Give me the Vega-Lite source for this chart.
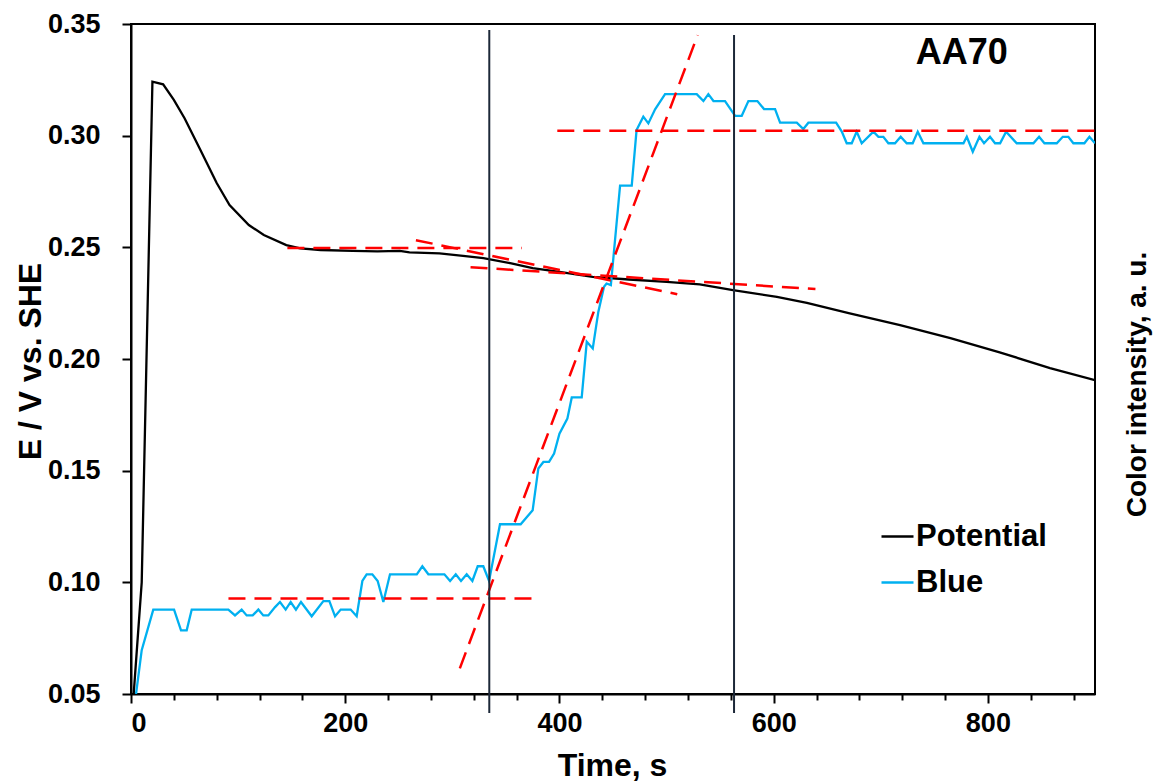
{
  "$schema": "https://vega.github.io/schema/vega-lite/v6.json",
  "width": 964,
  "height": 670,
  "autosize": {"type": "none"},
  "padding": {"left": 131, "top": 24, "right": 59, "bottom": 88},
  "background": "white",
  "config": {
    "view": {"stroke": "black", "strokeWidth": 2},
    "font": "Liberation Sans",
    "axis": {"grid": false, "ticks": true, "domainColor": "black", "domainWidth": 2, "tickColor": "black", "tickWidth": 2, "labelColor": "black", "titleColor": "black", "labelFont": "Liberation Sans", "titleFont": "Liberation Sans", "labelFontWeight": "bold", "titleFontWeight": "bold"}
  },
  "datasets": {
    "series": [
      {"series": "Potential", "t": 2.5, "v": 0.05},
      {"series": "Potential", "t": 10, "v": 0.10},
      {"series": "Potential", "t": 20, "v": 0.3242},
      {"series": "Potential", "t": 30, "v": 0.3230},
      {"series": "Potential", "t": 40, "v": 0.3160},
      {"series": "Potential", "t": 50, "v": 0.3078},
      {"series": "Potential", "t": 64, "v": 0.2944},
      {"series": "Potential", "t": 80, "v": 0.2788},
      {"series": "Potential", "t": 92, "v": 0.2689},
      {"series": "Potential", "t": 110, "v": 0.2600},
      {"series": "Potential", "t": 124, "v": 0.2555},
      {"series": "Potential", "t": 145, "v": 0.2510},
      {"series": "Potential", "t": 158, "v": 0.2495},
      {"series": "Potential", "t": 177, "v": 0.2488},
      {"series": "Potential", "t": 207, "v": 0.2484},
      {"series": "Potential", "t": 230, "v": 0.2482},
      {"series": "Potential", "t": 251, "v": 0.2484},
      {"series": "Potential", "t": 260, "v": 0.2477},
      {"series": "Potential", "t": 288, "v": 0.2473},
      {"series": "Potential", "t": 310, "v": 0.2462},
      {"series": "Potential", "t": 329, "v": 0.2452},
      {"series": "Potential", "t": 354, "v": 0.2429},
      {"series": "Potential", "t": 375, "v": 0.2407},
      {"series": "Potential", "t": 400, "v": 0.2390},
      {"series": "Potential", "t": 431, "v": 0.2368},
      {"series": "Potential", "t": 465, "v": 0.2356},
      {"series": "Potential", "t": 500, "v": 0.2345},
      {"series": "Potential", "t": 531, "v": 0.2334},
      {"series": "Potential", "t": 562, "v": 0.2308},
      {"series": "Potential", "t": 603, "v": 0.2278},
      {"series": "Potential", "t": 631, "v": 0.2251},
      {"series": "Potential", "t": 671, "v": 0.2204},
      {"series": "Potential", "t": 718, "v": 0.2152},
      {"series": "Potential", "t": 765, "v": 0.2093},
      {"series": "Potential", "t": 811, "v": 0.2030},
      {"series": "Potential", "t": 858, "v": 0.1959},
      {"series": "Potential", "t": 900, "v": 0.1905},
      {"series": "Blue", "t": 4.7, "v": 0.05},
      {"series": "Blue", "t": 10, "v": 0.0696},
      {"series": "Blue", "t": 20.8, "v": 0.0878},
      {"series": "Blue", "t": 40.2, "v": 0.0878},
      {"series": "Blue", "t": 46.7, "v": 0.0785},
      {"series": "Blue", "t": 52, "v": 0.0785},
      {"series": "Blue", "t": 56.7, "v": 0.0878},
      {"series": "Blue", "t": 90.9, "v": 0.0878},
      {"series": "Blue", "t": 97.1, "v": 0.0852},
      {"series": "Blue", "t": 103.3, "v": 0.0878},
      {"series": "Blue", "t": 108, "v": 0.0852},
      {"series": "Blue", "t": 113.6, "v": 0.0852},
      {"series": "Blue", "t": 118.9, "v": 0.0878},
      {"series": "Blue", "t": 123.5, "v": 0.0852},
      {"series": "Blue", "t": 128.2, "v": 0.0852},
      {"series": "Blue", "t": 134.5, "v": 0.0889},
      {"series": "Blue", "t": 139.1, "v": 0.0912},
      {"series": "Blue", "t": 144.4, "v": 0.0878},
      {"series": "Blue", "t": 149.1, "v": 0.0912},
      {"series": "Blue", "t": 154, "v": 0.0878},
      {"series": "Blue", "t": 158.7, "v": 0.0912},
      {"series": "Blue", "t": 168.7, "v": 0.0848},
      {"series": "Blue", "t": 179.6, "v": 0.0916},
      {"series": "Blue", "t": 185.2, "v": 0.0916},
      {"series": "Blue", "t": 190.5, "v": 0.0848},
      {"series": "Blue", "t": 195.8, "v": 0.0878},
      {"series": "Blue", "t": 205.1, "v": 0.0878},
      {"series": "Blue", "t": 210.7, "v": 0.0848},
      {"series": "Blue", "t": 216, "v": 0.1006},
      {"series": "Blue", "t": 220, "v": 0.1036},
      {"series": "Blue", "t": 225.3, "v": 0.1036},
      {"series": "Blue", "t": 230.3, "v": 0.1006},
      {"series": "Blue", "t": 235.6, "v": 0.0912},
      {"series": "Blue", "t": 241.8, "v": 0.1036},
      {"series": "Blue", "t": 266.8, "v": 0.1036},
      {"series": "Blue", "t": 272, "v": 0.1072},
      {"series": "Blue", "t": 277.6, "v": 0.1036},
      {"series": "Blue", "t": 292.6, "v": 0.1036},
      {"series": "Blue", "t": 297.9, "v": 0.1006},
      {"series": "Blue", "t": 303.2, "v": 0.1036},
      {"series": "Blue", "t": 308.1, "v": 0.1006},
      {"series": "Blue", "t": 313.4, "v": 0.1036},
      {"series": "Blue", "t": 318.7, "v": 0.1006},
      {"series": "Blue", "t": 323.7, "v": 0.1072},
      {"series": "Blue", "t": 328.9, "v": 0.1072},
      {"series": "Blue", "t": 334.3, "v": 0.1006},
      {"series": "Blue", "t": 344.5, "v": 0.126},
      {"series": "Blue", "t": 363.8, "v": 0.126},
      {"series": "Blue", "t": 375, "v": 0.1323},
      {"series": "Blue", "t": 380.3, "v": 0.1510},
      {"series": "Blue", "t": 385, "v": 0.1539},
      {"series": "Blue", "t": 390.3, "v": 0.1539},
      {"series": "Blue", "t": 395, "v": 0.1577},
      {"series": "Blue", "t": 400, "v": 0.1666},
      {"series": "Blue", "t": 407.4, "v": 0.1733},
      {"series": "Blue", "t": 411.5, "v": 0.1828},
      {"series": "Blue", "t": 420.8, "v": 0.1828},
      {"series": "Blue", "t": 425.5, "v": 0.2077},
      {"series": "Blue", "t": 431.1, "v": 0.2047},
      {"series": "Blue", "t": 436.3, "v": 0.2211},
      {"series": "Blue", "t": 441.6, "v": 0.2323},
      {"series": "Blue", "t": 444, "v": 0.2338},
      {"series": "Blue", "t": 448, "v": 0.2331},
      {"series": "Blue", "t": 456.6, "v": 0.2776},
      {"series": "Blue", "t": 467.5, "v": 0.2776},
      {"series": "Blue", "t": 472, "v": 0.3025},
      {"series": "Blue", "t": 478.3, "v": 0.3085},
      {"series": "Blue", "t": 483, "v": 0.3055},
      {"series": "Blue", "t": 489.3, "v": 0.3118},
      {"series": "Blue", "t": 498.6, "v": 0.3186},
      {"series": "Blue", "t": 528.2, "v": 0.3186},
      {"series": "Blue", "t": 534.4, "v": 0.3155},
      {"series": "Blue", "t": 539, "v": 0.3186},
      {"series": "Blue", "t": 543.8, "v": 0.3155},
      {"series": "Blue", "t": 554.6, "v": 0.3155},
      {"series": "Blue", "t": 564, "v": 0.3089},
      {"series": "Blue", "t": 570.2, "v": 0.3089},
      {"series": "Blue", "t": 576.4, "v": 0.3155},
      {"series": "Blue", "t": 584.8, "v": 0.3155},
      {"series": "Blue", "t": 591, "v": 0.3119},
      {"series": "Blue", "t": 601.3, "v": 0.3119},
      {"series": "Blue", "t": 606, "v": 0.3058},
      {"series": "Blue", "t": 621.6, "v": 0.3058},
      {"series": "Blue", "t": 627.7, "v": 0.3030},
      {"series": "Blue", "t": 632.4, "v": 0.3058},
      {"series": "Blue", "t": 658.3, "v": 0.3058},
      {"series": "Blue", "t": 663.6, "v": 0.3018},
      {"series": "Blue", "t": 668.2, "v": 0.2966},
      {"series": "Blue", "t": 672.9, "v": 0.2966},
      {"series": "Blue", "t": 677.5, "v": 0.3018},
      {"series": "Blue", "t": 682.2, "v": 0.2966},
      {"series": "Blue", "t": 693.1, "v": 0.3018},
      {"series": "Blue", "t": 697.8, "v": 0.2995},
      {"series": "Blue", "t": 702.4, "v": 0.2995},
      {"series": "Blue", "t": 707.1, "v": 0.2966},
      {"series": "Blue", "t": 713.3, "v": 0.2966},
      {"series": "Blue", "t": 718.6, "v": 0.2995},
      {"series": "Blue", "t": 724.2, "v": 0.2966},
      {"series": "Blue", "t": 729.8, "v": 0.2966},
      {"series": "Blue", "t": 734.5, "v": 0.3018},
      {"series": "Blue", "t": 739.8, "v": 0.2966},
      {"series": "Blue", "t": 777.2, "v": 0.2966},
      {"series": "Blue", "t": 780.3, "v": 0.2995},
      {"series": "Blue", "t": 785.9, "v": 0.2928},
      {"series": "Blue", "t": 792.1, "v": 0.2995},
      {"series": "Blue", "t": 796.4, "v": 0.2966},
      {"series": "Blue", "t": 802, "v": 0.2995},
      {"series": "Blue", "t": 806.7, "v": 0.2966},
      {"series": "Blue", "t": 811.4, "v": 0.2966},
      {"series": "Blue", "t": 817, "v": 0.3018},
      {"series": "Blue", "t": 826.9, "v": 0.2966},
      {"series": "Blue", "t": 842.5, "v": 0.2966},
      {"series": "Blue", "t": 847.8, "v": 0.2995},
      {"series": "Blue", "t": 852.8, "v": 0.2966},
      {"series": "Blue", "t": 864.3, "v": 0.2966},
      {"series": "Blue", "t": 869.9, "v": 0.2995},
      {"series": "Blue", "t": 875.1, "v": 0.2995},
      {"series": "Blue", "t": 879.8, "v": 0.2966},
      {"series": "Blue", "t": 890.1, "v": 0.2966},
      {"series": "Blue", "t": 894.8, "v": 0.2995},
      {"series": "Blue", "t": 900, "v": 0.2966}
    ],
    "fits": [
      {"id": "a", "t": 146, "v": 0.2497},
      {"id": "a", "t": 365, "v": 0.2497},
      {"id": "b", "t": 266, "v": 0.2532},
      {"id": "b", "t": 510, "v": 0.2290},
      {"id": "c", "t": 317, "v": 0.2411},
      {"id": "c", "t": 639, "v": 0.2313},
      {"id": "d", "t": 307, "v": 0.0615},
      {"id": "d", "t": 529, "v": 0.3450},
      {"id": "e", "t": 91, "v": 0.0928},
      {"id": "e", "t": 379, "v": 0.0928},
      {"id": "f", "t": 398, "v": 0.3022},
      {"id": "f", "t": 900, "v": 0.3022}
    ],
    "marks": [
      {"t": 334.5, "top": 0.3473, "bottom": 0.0415},
      {"t": 563, "top": 0.3451, "bottom": 0.0415}
    ],
    "label": [
      {"t": 775.6, "v": 0.3368, "text": "AA70"}
    ]
  },
  "layer": [
    {
      "data": {"name": "series"},
      "mark": {"type": "line", "strokeWidth": 2.3, "clip": true},
      "encoding": {
        "x": {"field": "t", "type": "quantitative", "scale": {"domain": [0, 900], "nice": false, "zero": false},
          "axis": {"orient": "bottom", "values": [0, 200, 400, 600, 800], "tickSize": 9, "labelFontSize": 27, "labelPadding": 7, "title": "Time, s", "titleFontSize": 32, "titleX": 481, "titleY": 81, "titleBaseline": "alphabetic"}},
        "y": {"field": "v", "type": "quantitative", "scale": {"domain": [0.05, 0.35], "nice": false, "zero": false},
          "axis": {"orient": "left", "values": [0.05, 0.1, 0.15, 0.2, 0.25, 0.3, 0.35], "format": ".2f", "tickSize": 9, "labelFontSize": 27, "labelPadding": 22, "title": "E / V vs. SHE", "titleFontSize": 32, "titleAngle": 270, "titleX": -101, "titleY": 337, "titleBaseline": "middle"}},
        "color": {"field": "series", "type": "nominal", "sort": ["Potential", "Blue"],
          "scale": {"domain": ["Potential", "Blue"], "range": ["#000000", "#00b0f0"]},
          "legend": {"title": null, "orient": "none", "legendX": 749, "legendY": 495, "symbolType": "stroke", "symbolSize": 1024, "symbolStrokeWidth": 2.3, "labelFontSize": 31, "labelFontWeight": "bold", "labelColor": "black", "labelFont": "Liberation Sans", "labelOffset": 1, "rowPadding": 13}}
      }
    },
    {
      "data": {"name": "fits"},
      "mark": {"type": "line", "color": "#ff0000", "strokeWidth": 2.5, "strokeDash": [17, 9]},
      "encoding": {
        "x": {"field": "t", "type": "quantitative", "axis": {"orient": "bottom", "values": [40, 80, 120, 160, 240, 280, 320, 360, 440, 480, 520, 560, 640, 680, 720, 760, 840, 880], "tickSize": 6, "labels": false, "domain": false, "title": null}},
        "y": {"field": "v", "type": "quantitative", "axis": null},
        "detail": {"field": "id", "type": "nominal"}
      }
    },
    {
      "data": {"name": "marks"},
      "mark": {"type": "rule", "color": "#1c2838", "strokeWidth": 2},
      "encoding": {
        "x": {"field": "t", "type": "quantitative", "axis": null},
        "y": {"field": "top", "type": "quantitative", "axis": {"orient": "right", "ticks": false, "labels": false, "domain": false, "title": "Color intensity, a. u.", "titleFontSize": 28, "titleAngle": 270, "titleX": 42, "titleY": 360, "titleBaseline": "middle"}},
        "y2": {"field": "bottom"}
      }
    },
    {
      "data": {"name": "label"},
      "mark": {"type": "text", "fontSize": 36, "fontWeight": "bold", "font": "Liberation Sans", "color": "black", "align": "center", "baseline": "middle"},
      "encoding": {
        "x": {"field": "t", "type": "quantitative", "axis": null},
        "y": {"field": "v", "type": "quantitative", "axis": null},
        "text": {"field": "text"}
      }
    }
  ],
  "resolve": {"axis": {"x": "independent", "y": "independent"}}
}
